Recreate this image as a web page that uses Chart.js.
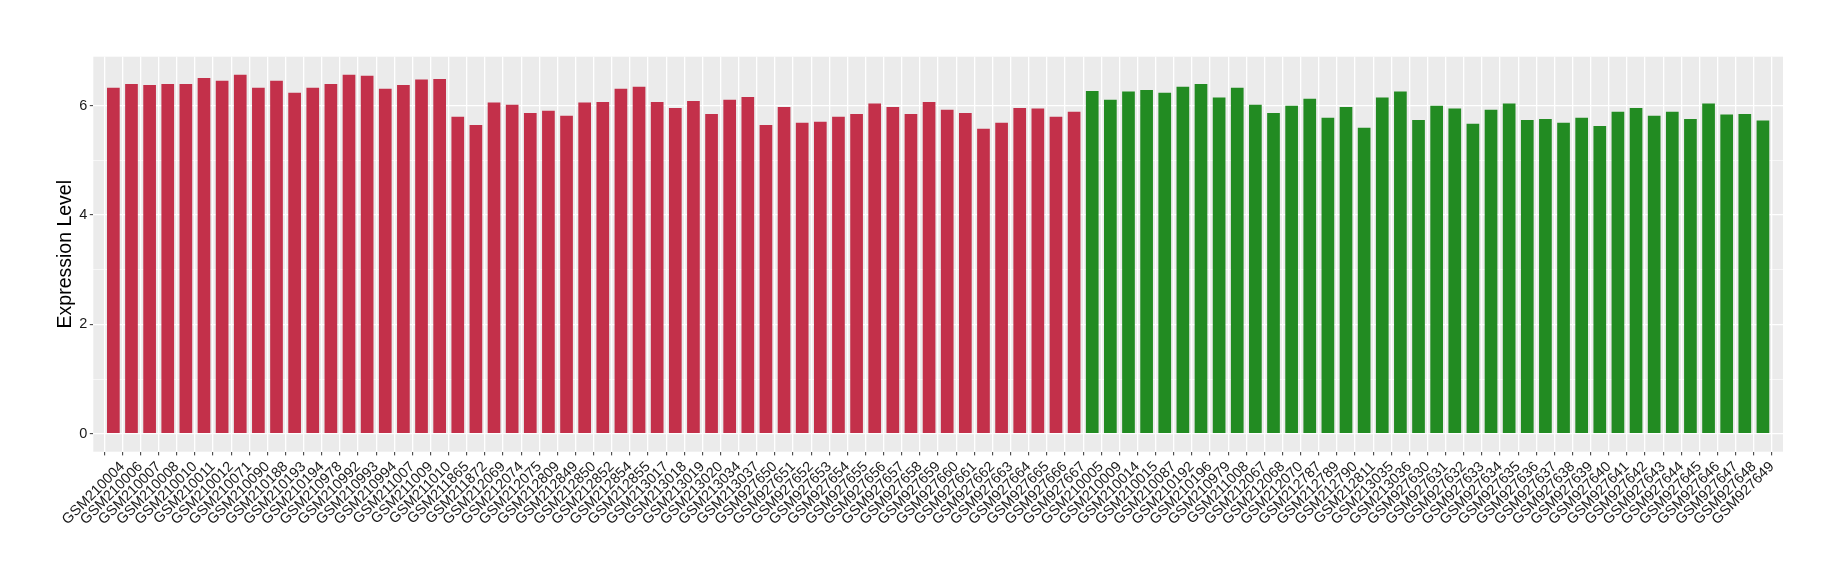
<!DOCTYPE html>
<html>
<head>
<meta charset="utf-8">
<script src="https://cdn.jsdelivr.net/npm/chart.js@4/dist/chart.umd.min.js"></script>
<style>
  html, body { margin: 0; padding: 0; background: #ffffff; }
  #wrap { width: 1840px; height: 580px; position: relative; }
</style>
</head>
<body>
<div id="wrap"><canvas id="c" width="1840" height="580"></canvas></div>
<script>
// ---- data ----
const categories = [
  "GSM210004","GSM210006","GSM210007","GSM210008","GSM210010","GSM210011","GSM210012","GSM210071",
  "GSM210090","GSM210188","GSM210193","GSM210194","GSM210978","GSM210992","GSM210993","GSM210994",
  "GSM211007","GSM211009","GSM211010","GSM211865","GSM211872","GSM212069","GSM212074","GSM212075",
  "GSM212809","GSM212849","GSM212850","GSM212852","GSM212854","GSM212855","GSM213017","GSM213018",
  "GSM213019","GSM213020","GSM213034","GSM213037","GSM927650","GSM927651","GSM927652","GSM927653",
  "GSM927654","GSM927655","GSM927656","GSM927657","GSM927658","GSM927659","GSM927660","GSM927661",
  "GSM927662","GSM927663","GSM927664","GSM927665","GSM927666","GSM927667",
  "GSM210005","GSM210009","GSM210014","GSM210015","GSM210087","GSM210192","GSM210196","GSM210979",
  "GSM211008","GSM212067","GSM212068","GSM212070","GSM212787","GSM212789","GSM212790","GSM212811",
  "GSM213035","GSM213036","GSM927630","GSM927631","GSM927632","GSM927633","GSM927634","GSM927635",
  "GSM927636","GSM927637","GSM927638","GSM927639","GSM927640","GSM927641","GSM927642","GSM927643",
  "GSM927644","GSM927645","GSM927646","GSM927647","GSM927648","GSM927649"
];
const values = [
  6.33,6.40,6.38,6.40,6.40,6.51,6.46,6.57,
  6.33,6.46,6.24,6.33,6.40,6.57,6.55,6.31,
  6.38,6.48,6.49,5.80,5.65,6.06,6.02,5.87,
  5.91,5.82,6.06,6.07,6.31,6.35,6.07,5.96,
  6.09,5.85,6.11,6.16,5.65,5.98,5.69,5.71,
  5.80,5.85,6.04,5.98,5.85,6.07,5.93,5.87,
  5.58,5.69,5.96,5.95,5.80,5.89,
  6.27,6.11,6.26,6.29,6.24,6.35,6.40,6.15,
  6.33,6.02,5.87,6.00,6.13,5.78,5.98,5.60,
  6.15,6.26,5.74,6.00,5.95,5.67,5.93,6.04,
  5.74,5.76,5.69,5.78,5.63,5.89,5.96,5.82,
  5.89,5.76,6.04,5.84,5.85,5.73
];
const groupSizes = [54, 38];            // first group red, second green
const groupColors = ["#C3304A", "#228B22"];
const yTickLabels = [0, 2, 4, 6];
const yTitle = "Expression Level";

// ---- build ----
const barColors = [];
groupSizes.forEach((n, g) => { for (let i = 0; i < n; i++) barColors.push(groupColors[g]); });
const points = values.map((v, i) => ({ x: i + 1, y: v }));
const vmax = Math.max(...values);
const FONT = "'Liberation Sans', Arial, 'DejaVu Sans', sans-serif";

const panelBg = {
  id: 'panelBg',
  beforeDraw(chart) {
    const { ctx, chartArea } = chart;
    ctx.save();
    ctx.fillStyle = '#EBEBEB';
    ctx.fillRect(chartArea.left, chartArea.top, chartArea.right - chartArea.left, chartArea.bottom - chartArea.top);
    ctx.restore();
  }
};

new Chart(document.getElementById('c'), {
  type: 'bar',
  data: {
    datasets: [{
      data: points,
      backgroundColor: barColors,
      borderWidth: 0,
      barPercentage: 0.7,
      categoryPercentage: 1.0
    }]
  },
  options: {
    responsive: false,
    animation: false,
    devicePixelRatio: 1,
    layout: { padding: { left: 48, right: 57, top: 56.7, bottom: 0 } },
    plugins: { legend: { display: false }, tooltip: { enabled: false } },
    scales: {
      x: {
        type: 'linear',
        min: 0.4,
        max: categories.length + 0.6,
        border: { display: false },
        grid: {
          color: '#FFFFFF',
          lineWidth: 1.3,
          drawTicks: true,
          tickLength: 3.7,
          tickColor: '#333333',
          tickWidth: 1
        },
        ticks: {
          stepSize: 1,
          includeBounds: false,
          autoSkip: false,
          minRotation: 45,
          maxRotation: 45,
          padding: 3,
          labelOffset: 9,
          color: '#1a1a1a',
          font: { family: FONT, size: 14.5 },
          callback: (v) => categories[Math.round(v) - 1] || ''
        },
        afterFit: (s) => { s.height = 580 - 451.7; }
      },
      y: {
        min: -0.05 * vmax,
        max: 1.05 * vmax,
        border: { display: false },
        grid: {
          color: '#FFFFFF',
          lineWidth: (c) => (yTickLabels.includes(c.tick.value) ? 1.3 : 0.6),
          drawTicks: true,
          tickLength: 3.5,
          tickColor: (c) => (yTickLabels.includes(c.tick.value) ? '#333333' : 'rgba(0,0,0,0)'),
          tickWidth: 1
        },
        ticks: {
          stepSize: 1,
          includeBounds: false,
          padding: 2.5,
          color: '#1a1a1a',
          font: { family: FONT, size: 14.5 },
          callback: (v) => (yTickLabels.includes(v) ? String(v) : '')
        },
        title: {
          display: true,
          text: yTitle,
          color: '#000000',
          font: { family: FONT, size: 19.5 },
          padding: { top: 6.3, bottom: 0 }
        },
        afterFit: (s) => { s.width = 93.3 - 48; }
      }
    }
  },
  plugins: [panelBg]
});
</script>
</body>
</html>
